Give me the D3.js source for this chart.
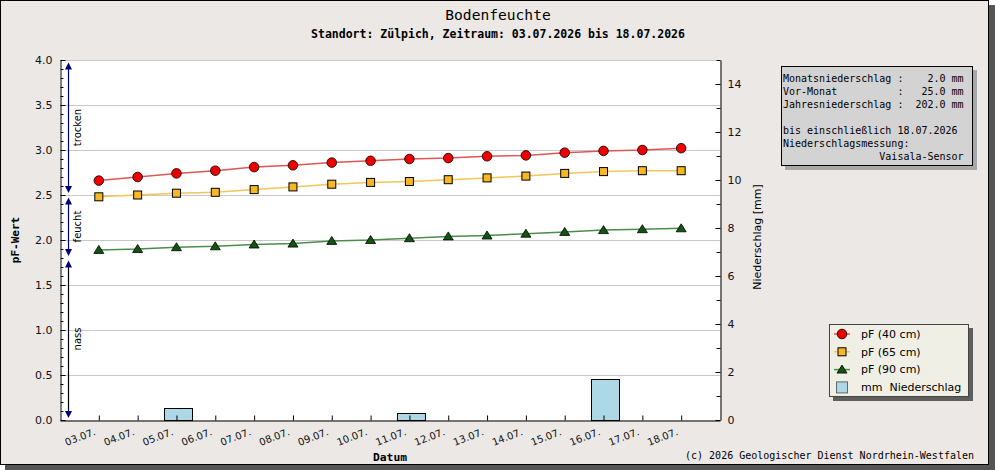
<!DOCTYPE html>
<html>
<head>
<meta charset="utf-8">
<script src="https://cdn.jsdelivr.net/npm/d3@7"></script>
<style>
  body { margin: 0; background: #fff; }
  svg text { font-family: "DejaVu Sans", sans-serif; }
  .mono { font-family: "DejaVu Sans Mono", monospace; }
</style>
</head>
<body>
<svg id="chart" width="995" height="470"></svg>
<script>
// values
const dates = ["03.07.", "04.07.", "05.07.", "06.07.", "07.07.", "08.07.", "09.07.", "10.07.",
               "11.07.", "12.07.", "13.07.", "14.07.", "15.07.", "16.07.", "17.07.", "18.07."];
const pf40 = [2.66, 2.70, 2.74, 2.77, 2.81, 2.83, 2.86, 2.88, 2.90, 2.91, 2.93, 2.94, 2.97, 2.99, 3.00, 3.02];
const pf65 = [2.48, 2.50, 2.52, 2.53, 2.56, 2.59, 2.62, 2.64, 2.65, 2.67, 2.69, 2.71, 2.74, 2.76, 2.77, 2.77];
const pf90 = [1.89, 1.90, 1.92, 1.93, 1.95, 1.96, 1.99, 2.00, 2.02, 2.04, 2.05, 2.07, 2.09, 2.11, 2.12, 2.13];
const niederschlag = [0, 0, 0.5, 0, 0, 0, 0, 0, 0.3, 0, 0, 0, 0, 1.7, 0, 0];

const pfTicks = [0, 0.5, 1.0, 1.5, 2.0, 2.5, 3.0, 3.5, 4.0];
const mmTicks = [0, 2, 4, 6, 8, 10, 12, 14];

const zones = [
    { label: "trocken", from: 2.5, to: 4.0, color: "#000080" },
    { label: "feucht", from: 1.8, to: 2.5, color: "#000080" },
    { label: "nass", from: 0.0, to: 1.8, color: "#000000" }
];

const infoLines = [
    "Monatsniederschlag :    2.0 mm",
    "Vor-Monat          :   25.0 mm",
    "Jahresniederschlag :  202.0 mm",
    "",
    "bis einschließlich 18.07.2026",
    "Niederschlagsmessung:",
    "                Vaisala-Sensor"
];

const series = [
    { label: "pF (40 cm)", values: pf40, line: "#de5656", fill: "#ee0000", shape: "circle" },
    { label: "pF (65 cm)", values: pf65, line: "#f2c65a", fill: "#f8b824", shape: "square" },
    { label: "pF (90 cm)", values: pf90, line: "#4c8c4c", fill: "#115511", shape: "triangle" }
];

const margin = { left: 60, right: 720, top: 60, bottom: 420 };
const bg = "#ebe8e6";

const svg = d3.select("#chart");

// frame with shadow
svg.append("rect").attr("x", 5).attr("y", 5).attr("width", 990).attr("height", 465).attr("fill", "#555");
svg.append("rect").attr("x", 0.5).attr("y", 0.5).attr("width", 988).attr("height", 464)
    .attr("fill", bg).attr("stroke", "#000");

// titles
svg.append("text").attr("class", "mono")
    .attr("x", 498).attr("y", 19.5).attr("text-anchor", "middle")
    .attr("font-size", "14.6px").text("Bodenfeuchte");
svg.append("text").attr("class", "mono")
    .attr("x", 498).attr("y", 37.5).attr("text-anchor", "middle")
    .attr("font-size", "11.5px").attr("font-weight", "bold")
    .text("Standort: Zülpich, Zeitraum: 03.07.2026 bis 18.07.2026");

const x = d3.scaleLinear()
    .domain([-1, dates.length])
    .range([margin.left, margin.right]);

const y = d3.scaleLinear()
    .domain([0, 4])
    .range([margin.bottom, margin.top]);

const y2 = d3.scaleLinear()
    .domain([0, 15])
    .range([margin.bottom, margin.top]);

// plot background
svg.append("rect")
    .attr("x", margin.left).attr("y", margin.top)
    .attr("width", margin.right - margin.left).attr("height", margin.bottom - margin.top)
    .attr("fill", "#fff");

// grid
svg.append("g").selectAll("line")
    .data(pfTicks.filter(d => d > 0))
    .join("line")
    .attr("x1", margin.left).attr("x2", margin.right)
    .attr("y1", d => Math.round(y(d)) + 0.5).attr("y2", d => Math.round(y(d)) + 0.5)
    .attr("stroke", "#c8c8c8");

// precipitation bars
svg.append("g").selectAll("rect")
    .data(niederschlag.map((v, i) => ({ v, i })).filter(d => d.v > 0))
    .join("rect")
    .attr("x", d => Math.round(x(d.i) - 12.5) + 0.5)
    .attr("width", 28)
    .attr("y", d => Math.round(y2(d.v)) + 0.5)
    .attr("height", d => y2(0) - Math.round(y2(d.v)))
    .attr("fill", "#add8e6")
    .attr("stroke", "#000");

// zone arrows on the left
const arrowX = 68.5;
const zoneG = svg.append("g");
zones.forEach(z => {
    const top = y(z.to) + 2.5, bot = y(z.from) - 2;
    zoneG.append("line")
        .attr("x1", arrowX).attr("x2", arrowX)
        .attr("y1", top + 3).attr("y2", bot - 3)
        .attr("stroke", z.color).attr("stroke-width", 1.2);
    zoneG.append("path")
        .attr("d", `M${arrowX},${top} l3.5,7 l-7,0 Z`).attr("fill", "#000080");
    zoneG.append("path")
        .attr("d", `M${arrowX},${bot} l3.5,-7 l-7,0 Z`).attr("fill", "#000080");
    zoneG.append("text")
        .attr("transform", `translate(81,${(y(z.to) + y(z.from)) / 2}) rotate(-90)`)
        .attr("text-anchor", "middle")
        .attr("font-size", "10px")
        .text(z.label);
});

// pF lines and markers
function drawMarker(g, shape, fill) {
    if (shape === "circle") {
        g.append("circle").attr("r", 4.8).attr("fill", fill).attr("stroke", "#000").attr("stroke-width", 0.8);
    } else if (shape === "square") {
        g.append("rect").attr("x", -4).attr("y", -4).attr("width", 8).attr("height", 8)
            .attr("fill", fill).attr("stroke", "#000").attr("stroke-width", 1);
    } else {
        g.append("path").attr("d", "M0,-4.5 L5,3.5 L-5,3.5 Z")
            .attr("fill", fill).attr("stroke", "#000").attr("stroke-width", 0.8);
    }
}

const line = d3.line()
    .x((d, i) => x(i))
    .y(d => y(d));

series.forEach(s => {
    svg.append("path")
        .datum(s.values)
        .attr("d", line)
        .attr("fill", "none")
        .attr("stroke", s.line)
        .attr("stroke-width", 1.5);

    svg.append("g").selectAll("g")
        .data(s.values)
        .join("g")
        .attr("transform", (d, i) => `translate(${x(i)},${y(d)})`)
        .each(function() { drawMarker(d3.select(this), s.shape, s.fill); });
});

// left axis, ticks pointing inwards
const leftAxis = svg.append("g")
    .attr("transform", `translate(${margin.left + 0.5},0)`)
    .call(d3.axisLeft(y).tickValues(pfTicks).tickFormat(d3.format(".1f"))
        .tickSizeInner(-5).tickSizeOuter(0).tickPadding(8));
svg.append("g")
    .attr("transform", `translate(${margin.left + 0.5},0)`)
    .call(d3.axisLeft(y).tickValues(d3.range(1, 40).map(d => d / 10).filter(d => Math.round(d * 10) % 5 !== 0))
        .tickSizeInner(-3).tickSizeOuter(0).tickFormat(""))
    .select(".domain").remove();

// right axis (precipitation)
const rightAxis = svg.append("g")
    .attr("transform", `translate(${margin.right + 0.5},0)`)
    .call(d3.axisRight(y2).tickValues(mmTicks)
        .tickSizeInner(-5).tickSizeOuter(0).tickPadding(7));
svg.append("g")
    .attr("transform", `translate(${margin.right + 0.5},0)`)
    .call(d3.axisRight(y2).tickValues([1, 3, 5, 7, 9, 11, 13, 15])
        .tickSizeInner(-4).tickSizeOuter(0).tickFormat(""))
    .select(".domain").remove();

// bottom axis with rotated date labels
const bottomAxis = svg.append("g")
    .attr("transform", `translate(0,${margin.bottom + 0.5})`)
    .call(d3.axisBottom(x).tickValues(d3.range(dates.length)).tickFormat(i => dates[i])
        .tickSizeInner(-5).tickSizeOuter(0));
bottomAxis.selectAll("text")
    .attr("x", 0).attr("y", 0).attr("dy", 0)
    .attr("text-anchor", "end")
    .attr("transform", "translate(-3,14) rotate(-21)");

[leftAxis, rightAxis, bottomAxis].forEach(a => {
    a.attr("font-family", "DejaVu Sans").attr("font-size", 11);
    a.selectAll("text").attr("fill", "#111");
});
bottomAxis.attr("font-size", 10);
svg.selectAll(".tick line").attr("stroke", "#000");
svg.selectAll(".domain").attr("stroke", "#000");

// axis titles
svg.append("text").attr("class", "mono")
    .attr("transform", "translate(19,240) rotate(-90)")
    .attr("text-anchor", "middle")
    .attr("font-size", "11px").attr("font-weight", "bold")
    .text("pF-Wert");
svg.append("text")
    .attr("transform", "translate(761,237) rotate(-90)")
    .attr("text-anchor", "middle")
    .attr("font-size", "11px")
    .text("Niederschlag [mm]");
svg.append("text").attr("class", "mono")
    .attr("x", 390).attr("y", 461).attr("text-anchor", "middle")
    .attr("font-size", "11.3px").attr("font-weight", "bold")
    .text("Datum");

// info box
svg.append("rect").attr("x", 785).attr("y", 70).attr("width", 192).attr("height", 100).attr("fill", "#a8a8a8");
svg.append("rect").attr("x", 781.5).attr("y", 66.5).attr("width", 191).attr("height", 99)
    .attr("fill", "#d3d3d3").attr("stroke", "#000");
svg.append("g").selectAll("text")
    .data(infoLines)
    .join("text")
    .attr("class", "mono")
    .style("white-space", "pre")
    .attr("x", 783)
    .attr("y", (d, i) => 82 + i * 13)
    .attr("font-size", "10px")
    .text(d => d);

// legend
svg.append("rect").attr("x", 833).attr("y", 328).attr("width", 140).attr("height", 73).attr("fill", "#5e5e5e");
svg.append("rect").attr("x", 829.5).attr("y", 324.5).attr("width", 139).attr("height", 72)
    .attr("fill", "#efefe5").attr("stroke", "#444");

const legendItems = series.map(s => ({ label: s.label, series: s }))
    .concat([{ label: "mm  Niederschlag", series: null }]);

legendItems.forEach((item, i) => {
    const ly = 334 + i * 17.8;
    const g = svg.append("g").attr("transform", `translate(842,${ly})`);
    if (item.series) {
        g.append("line").attr("x1", -8).attr("x2", 8).attr("stroke", item.series.line).attr("stroke-width", 1.5);
        drawMarker(g, item.series.shape, item.series.fill);
    } else {
        g.append("rect").attr("x", -5.5).attr("y", -5.5).attr("width", 11).attr("height", 11)
            .attr("fill", "#add8e6").attr("stroke", "#666");
    }
    svg.append("text")
        .style("white-space", "pre")
        .attr("x", 861).attr("y", ly)
        .attr("dy", "0.35em")
        .attr("font-size", "11px")
        .text(item.label);
});

// copyright
svg.append("text").attr("class", "mono")
    .attr("x", 974).attr("y", 459).attr("text-anchor", "end")
    .attr("font-size", "10px")
    .text("(c) 2026 Geologischer Dienst Nordrhein-Westfalen");
</script>
</body>
</html>
